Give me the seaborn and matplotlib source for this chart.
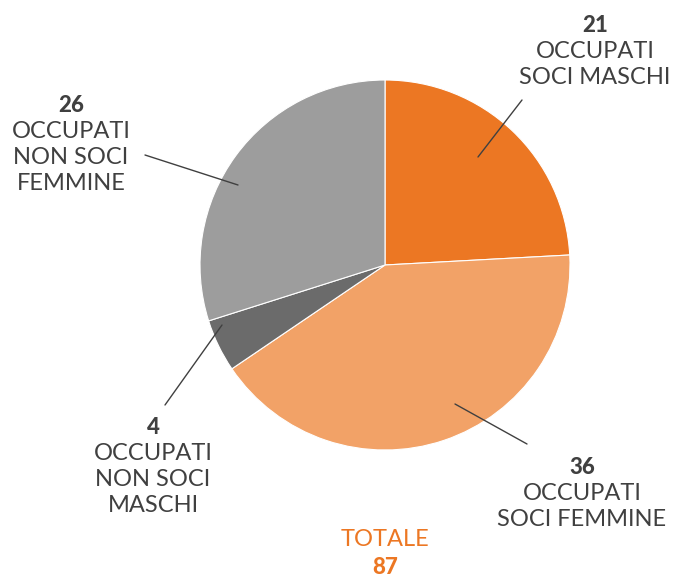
import matplotlib
matplotlib.use("Agg")
import matplotlib.pyplot as plt
import seaborn as sns

# dati
categorie = ["OCCUPATI\nSOCI MASCHI", "OCCUPATI\nSOCI FEMMINE",
             "OCCUPATI\nNON SOCI\nMASCHI", "OCCUPATI\nNON SOCI\nFEMMINE"]
valori = [21, 36, 4, 26]
colori = ["#EC7723", "#F2A267", "#6B6B6B", "#9D9D9D"]
totale = sum(valori)

sns.set_theme(style="white")
plt.rcParams['font.family'] = ['Lato', 'DejaVu Sans']

fig = plt.figure(figsize=(6.74, 5.8), dpi=100)
ax = fig.add_axes([0, 0, 1, 1])

H = 580
ax.pie(valori, colors=colori, startangle=90, counterclock=False,
       center=(385, H - 265), radius=185,
       wedgeprops=dict(linewidth=0.8, edgecolor='white'))
ax.set_xlim(0, 674)
ax.set_ylim(0, 580)
ax.set_aspect('equal')
ax.axis('off')

# linee guida (px immagine)
linee = [((478, 157), (522, 100)),
         ((455, 404), (527, 444)),
         ((222, 325), (165, 405)),
         ((238, 185), (145, 155))]
for (x0, y0), (x1, y1) in linee:
    ax.plot([x0, x1], [H - y0, H - y1], color="#404040", lw=1)

# posizioni etichette: centro x, y del numero
pos = [(595, 26), (582, 468), (153, 427), (71, 105)]
testo = "#404040"
for (x, y), v, c in zip(pos, valori, categorie):
    ax.text(x, H - y, str(v), ha='center', va='center', fontsize=16,
            fontweight='black', color=testo)
    for i, riga in enumerate(c.split("\n")):
        ax.text(x, H - (y + 26 * (i + 1)), riga, ha='center', va='center',
                fontsize=17, color=testo)

ax.text(385, H - 540, "TOTALE", ha='center', va='center', fontsize=17,
        color="#EC7723")
ax.text(385, H - 567, str(totale), ha='center', va='center', fontsize=16,
        fontweight='black', color="#EC7723")

fig.savefig("out.png", dpi=100)
